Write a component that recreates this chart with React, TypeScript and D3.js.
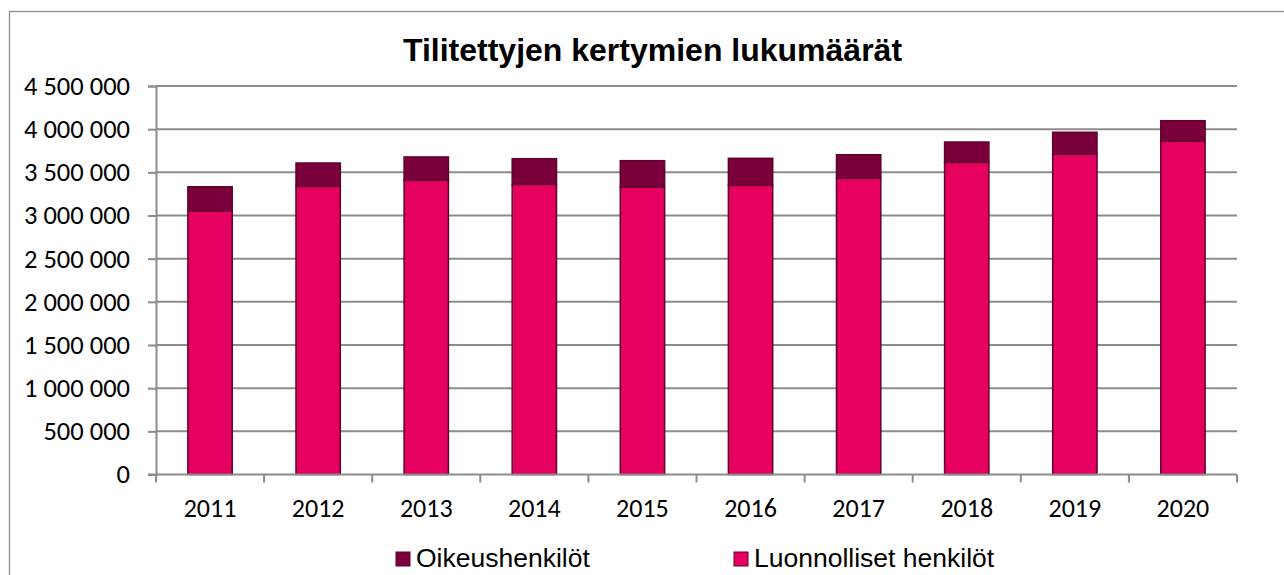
import { useEffect, useRef } from "react";
import * as d3 from "d3";

const years = ["2011", "2012", "2013", "2014", "2015", "2016", "2017", "2018", "2019", "2020"];
// Luonnolliset henkilöt (lower stack)
const natural = [3056000, 3338000, 3408000, 3361000, 3330000, 3350000, 3431000, 3616000, 3709000, 3863000];
// Oikeushenkilöt (upper stack)
const legal = [277000, 270000, 270000, 297000, 305000, 312000, 273000, 235000, 255000, 235000];
const yTicks = [0, 500000, 1000000, 1500000, 2000000, 2500000, 3000000, 3500000, 4000000, 4500000];

const PINK = "#e6005f";
const DARK = "#7a003c";
const EDGE = "#5e0030";
const GRID = "#8c8c8c";

const fmt = (v: number) => d3.format(",")(v).replace(/,/g, " ");

export default function App() {
  const svgRef = useRef<SVGSVGElement | null>(null);

  useEffect(() => {
    const svg = d3.select(svgRef.current);
    svg.selectAll("*").remove();

    const left = 156, right = 1237, top = 86, bottom = 474.5;

    const x = d3.scaleBand().domain(years).range([left, right]).paddingInner(0.59).paddingOuter(0.295);
    const y = d3.scaleLinear().domain([0, 4500000]).range([bottom, top]);

    // outer frame
    svg.append("rect")
      .attr("x", 9.5).attr("y", 11.5).attr("width", 1290).attr("height", 600)
      .attr("fill", "white").attr("stroke", GRID).attr("stroke-width", 1.3);

    svg.append("text")
      .attr("x", 652.5).attr("y", 61)
      .attr("text-anchor", "middle")
      .attr("font-family", "Liberation Sans, Arial, sans-serif")
      .attr("font-weight", "bold").attr("font-size", 32)
      .text("Tilitettyjen kertymien lukumäärät");

    // gridlines
    svg.append("g").selectAll("line").data(yTicks.slice(1)).join("line")
      .attr("x1", left).attr("x2", right)
      .attr("y1", (d) => y(d)).attr("y2", (d) => y(d))
      .attr("stroke", GRID).attr("stroke-width", 2);

    // y axis
    const yAxis = svg.append("g").attr("transform", `translate(${left},0)`)
      .call(d3.axisLeft(y).tickValues(yTicks).tickFormat((d) => fmt(d as number)).tickSize(8).tickPadding(18));
    yAxis.select(".domain").attr("stroke", GRID).attr("stroke-width", 2);
    yAxis.selectAll(".tick line").attr("stroke", GRID).attr("stroke-width", 2);
    yAxis.selectAll(".tick text")
      .attr("font-family", "Carlito, Lato, sans-serif").attr("font-size", 26.5).attr("fill", "#000");

    // bars
    const g = svg.append("g");
    years.forEach((yr, i) => {
      const bx = x(yr)!;
      g.append("rect")
        .attr("x", bx).attr("width", x.bandwidth())
        .attr("y", y(natural[i])).attr("height", y(0) - y(natural[i]))
        .attr("fill", PINK).attr("stroke", EDGE).attr("stroke-width", 1.5);
      g.append("rect")
        .attr("x", bx).attr("width", x.bandwidth())
        .attr("y", y(natural[i] + legal[i])).attr("height", y(natural[i]) - y(natural[i] + legal[i]))
        .attr("fill", DARK).attr("stroke", EDGE).attr("stroke-width", 1.5);
    });

    // x axis
    const step = (right - left) / years.length;
    const xg = svg.append("g");
    xg.append("line").attr("x1", left - 8).attr("x2", right).attr("y1", bottom).attr("y2", bottom)
      .attr("stroke", GRID).attr("stroke-width", 2);
    xg.selectAll("line.t").data(d3.range(years.length + 1)).join("line").attr("class", "t")
      .attr("x1", (d) => left + d * step).attr("x2", (d) => left + d * step)
      .attr("y1", bottom).attr("y2", bottom + 8)
      .attr("stroke", GRID).attr("stroke-width", 2);
    xg.selectAll("text").data(years).join("text")
      .attr("x", (d) => x(d)! + x.bandwidth() / 2).attr("y", 517)
      .attr("text-anchor", "middle")
      .attr("font-family", "Carlito, Lato, sans-serif").attr("font-size", 26)
      .text((d) => d);

    // legend
    const legend = [
      { label: "Oikeushenkilöt", color: DARK, x: 396 },
      { label: "Luonnolliset henkilöt", color: PINK, x: 734 },
    ];
    const lg = svg.append("g");
    legend.forEach((l) => {
      lg.append("rect").attr("x", l.x).attr("y", 552).attr("width", 14).attr("height", 14)
        .attr("fill", l.color).attr("stroke", EDGE).attr("stroke-width", 1);
      lg.append("text").attr("x", l.x + 20).attr("y", 566.5)
        .attr("font-family", "Liberation Sans, Arial, sans-serif").attr("font-size", 26.5)
        .text(l.label);
    });
  }, []);

  return (
    <svg ref={svgRef} width={1284} height={575}
      style={{ position: "absolute", left: 0, top: 0, display: "block", background: "white" }} />
  );
}
